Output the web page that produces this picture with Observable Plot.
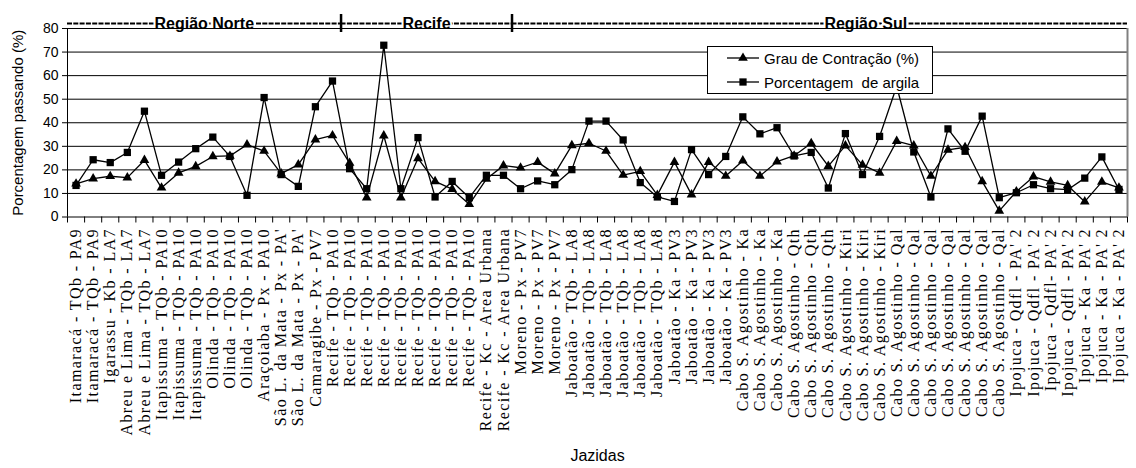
<!DOCTYPE html>
<html><head><meta charset="utf-8">
<script src="https://cdn.jsdelivr.net/npm/d3@7"></script>
<script src="https://cdn.jsdelivr.net/npm/@observablehq/plot@0.6"></script>
<style>
body{margin:0;background:#fff;}
#wrap{position:relative;width:1136px;height:468px;}
g[aria-label="x-axis tick label"] text{letter-spacing:1.4px;}
#legend{position:absolute;left:707px;top:46px;width:224px;height:46px;border:1px solid #000;background:#fff;font-family:"Liberation Sans",Arial,sans-serif;font-size:15px;color:#000;}
.item{position:absolute;left:18px;height:20px;display:flex;align-items:center;white-space:pre;}
.item svg{margin-right:4px;}
</style>
</head><body><div id="wrap"></div>
<script>
const categories = [
  "Itamaracá - TQb - PA9","Itamaracá - TQb - PA9","Igarassu - Kb - LA7","Abreu e Lima - TQb - LA7","Abreu e Lima - TQb - LA7",
  "Itapissuma - TQb - PA10","Itapissuma - TQb - PA10","Itapissuma - TQb - PA10","Olinda - TQb - PA10","Olinda - TQb - PA10",
  "Olinda - TQb - PA10","Araçoiaba - Px - PA10","São L. da Mata - Px - PA'","São L. da Mata - Px - PA'","Camaragibe - Px - PV7",
  "Recife - TQb - PA10","Recife - TQb - PA10","Recife - TQb - PA10","Recife - TQb - PA10","Recife - TQb - PA10",
  "Recife - TQb - PA10","Recife - TQb - PA10","Recife - TQb - PA10","Recife - TQb - PA10","Recife - Kc - Area Urbana",
  "Recife - Kc - Area Urbana","Moreno - Px - PV7","Moreno - Px - PV7","Moreno - Px - PV7","Jaboatão - TQb - LA8",
  "Jaboatão - TQb - LA8","Jaboatão - TQb - LA8","Jaboatão - TQb - LA8","Jaboatão - TQb - LA8","Jaboatão - TQb - LA8",
  "Jaboatão - Ka - PV3","Jaboatão - Ka - PV3","Jaboatão - Ka - PV3","Jaboatão - Ka - PV3","Cabo S. Agostinho - Ka",
  "Cabo S. Agostinho - Ka","Cabo S. Agostinho - Ka","Cabo S. Agostinho - Qth","Cabo S. Agostinho - Qth","Cabo S. Agostinho - Qth",
  "Cabo S. Agostinho - Kiri","Cabo S. Agostinho - Kiri","Cabo S. Agostinho - Kiri","Cabo S. Agostinho - Qal","Cabo S. Agostinho - Qal",
  "Cabo S. Agostinho - Qal","Cabo S. Agostinho - Qal","Cabo S. Agostinho - Qal","Cabo S. Agostinho - Qal","Cabo S. Agostinho - Qal",
  "Ipojuca - Qdfl - PA' 2","Ipojuca - Qdfl - PA' 2","Ipojuca - Qdfl- PA' 2","Ipojuca - Qdfl - PA' 2","Ipojuca - Ka - PA' 2",
  "Ipojuca - Ka - PA' 2","Ipojuca - Ka - PA' 2"
];
const contracao = [14.1,16.3,17.3,16.7,24.1,12.4,18.7,21.5,25.7,25.9,
  30.7,28.0,18.4,22.2,32.8,34.6,22.9,8.2,34.5,8.2,
  24.9,15.1,11.8,5.4,16.1,21.8,20.9,23.3,18.4,30.4,
  31.3,28.0,17.8,19.4,9.3,23.3,9.5,23.3,17.4,23.9,
  17.4,23.5,26.0,31.3,21.6,30.3,22.1,18.7,32.2,30.3,
  17.4,28.5,29.6,15.1,2.6,10.8,17.1,14.9,13.4,6.5,
  14.9,12.4];
const argila = [13.4,24.3,23.1,27.4,44.9,17.7,23.3,29.0,33.9,25.7,
  9.2,50.7,18.0,13.0,46.8,57.7,20.5,12.0,72.9,12.0,
  33.7,8.5,15.1,8.2,17.7,17.7,12.0,15.3,13.7,20.1,
  40.7,40.7,32.7,14.6,8.5,6.6,28.6,18.0,25.7,42.5,
  35.3,37.9,25.9,27.4,12.3,35.4,18.0,34.2,55.5,27.6,
  8.5,37.4,27.9,42.8,8.2,10.3,13.7,12.0,11.6,16.5,
  25.5,11.7];
const seriesNames = ["Grau de Contração (%)", "Porcentagem  de argila"];
const regionNames = ["Região Norte", "Recife", "Região Sul"];
const regionCounts = [16, 10, 36];
const yTicks = [0,10,20,30,40,50,60,70,80];

const n = categories.length;
const rows = categories.map((c, i) => ({i: i + 0.5, label: c, contracao: contracao[i], argila: argila[i]}));
let acc = 0;
const regions = regionNames.map((name, k) => { const r = {name, start: acc, end: acc + regionCounts[k]}; acc += regionCounts[k]; return r; });
const yMax = d3.max(yTicks);
const sans = '"Liberation Sans", Arial, sans-serif';
const serif = '"Liberation Serif", "Times New Roman", serif';

const chart = Plot.plot({
  width: 1136, height: 468,
  marginLeft: 67, marginRight: 9, marginTop: 28, marginBottom: 251.5,
  style: {fontFamily: sans, fontSize: "14px", color: "#000", background: "#fff", overflow: "visible"},
  x: {type: "linear", domain: [0, n], label: null},
  y: {domain: [0, yMax], label: null},
  marks: [
    Plot.ruleY(regions, {y: () => yMax, x1: "start", x2: "end", dy: -5, stroke: "#000", strokeWidth: 2.2, strokeDasharray: "5,1.3"}),
    Plot.text(regions.slice(0, 2), {x: d => (d.start + d.end) / 2, frameAnchor: "top", text: "name", fontWeight: "bold", fontSize: 16, lineAnchor: "bottom", dy: 0, fill: "#000", stroke: "#fff", strokeWidth: 4, paintOrder: "stroke"}),
    Plot.text(regions.slice(2), {x: d => (d.start + d.end) / 2, frameAnchor: "top", text: "name", fontWeight: "bold", fontSize: 16, lineAnchor: "bottom", dy: 0, dx: 46, fill: "#000", stroke: "#fff", strokeWidth: 4, paintOrder: "stroke"}),
    Plot.ruleX(regions.slice(1), {x: "start", y1: () => yMax, y2: () => yMax, insetTop: -14, insetBottom: -4, stroke: "#000", strokeWidth: 2.5}),
    Plot.ruleY(yTicks.filter(d => d > 0), {stroke: "#000", strokeWidth: 1}),
    Plot.ruleX([n], {stroke: "#808080", strokeWidth: 2}),
    Plot.ruleX([0], {stroke: "#000"}),
    Plot.ruleY([0], {stroke: "#000"}),
    Plot.axisY({ticks: yTicks, tickSize: 5, tickPadding: 4, fontSize: 14, label: null}),
    Plot.axisX({ticks: d3.range(0, n + 1), tickSize: 6, tickFormat: () => "", label: null}),
    Plot.axisX({ticks: rows.map(d => d.i), tickSize: 0, tickPadding: 11, tickRotate: -90,
      tickFormat: v => categories[Math.floor(v)], fontFamily: serif, fontSize: 16, label: null}),
    Plot.text(["Porcentagem passando (%)"], {frameAnchor: "left", rotate: -90, dx: -49, textAnchor: "middle", lineAnchor: "middle", fontSize: 15}),
    Plot.text(["Jazidas"], {frameAnchor: "bottom", dy: 238.5, textAnchor: "middle", lineAnchor: "middle", fontSize: 16}),
    Plot.line(rows, {x: "i", y: "contracao", stroke: "#000", strokeWidth: 1.3}),
    Plot.dot(rows, {x: "i", y: "contracao", symbol: "triangle", r: 3.6, fill: "#000"}),
    Plot.line(rows, {x: "i", y: "argila", stroke: "#000", strokeWidth: 1.3}),
    Plot.dot(rows, {x: "i", y: "argila", symbol: "square", r: 4.1, fill: "#000"})
  ]
});
const wrap = document.getElementById("wrap");
wrap.appendChild(chart);

// legend
const legend = document.createElement("div");
legend.id = "legend";
const symbols = [d3.symbolTriangle, d3.symbolSquare];
const sizes = [Math.PI * 3.6 * 3.6, Math.PI * 4.1 * 4.1];
seriesNames.forEach((name, k) => {
  const item = document.createElement("div");
  item.className = "item";
  item.style.top = (1 + k * 24) + "px";
  const path = d3.symbol(symbols[k], sizes[k])();
  item.innerHTML = `<svg width="34" height="20"><line x1="1" y1="10" x2="33" y2="10" stroke="#000" stroke-width="1.3"/><path transform="translate(17,10)" d="${path}" fill="#000"/></svg>`;
  item.appendChild(document.createTextNode(name));
  legend.appendChild(item);
});
wrap.appendChild(legend);
</script>
</body></html>
